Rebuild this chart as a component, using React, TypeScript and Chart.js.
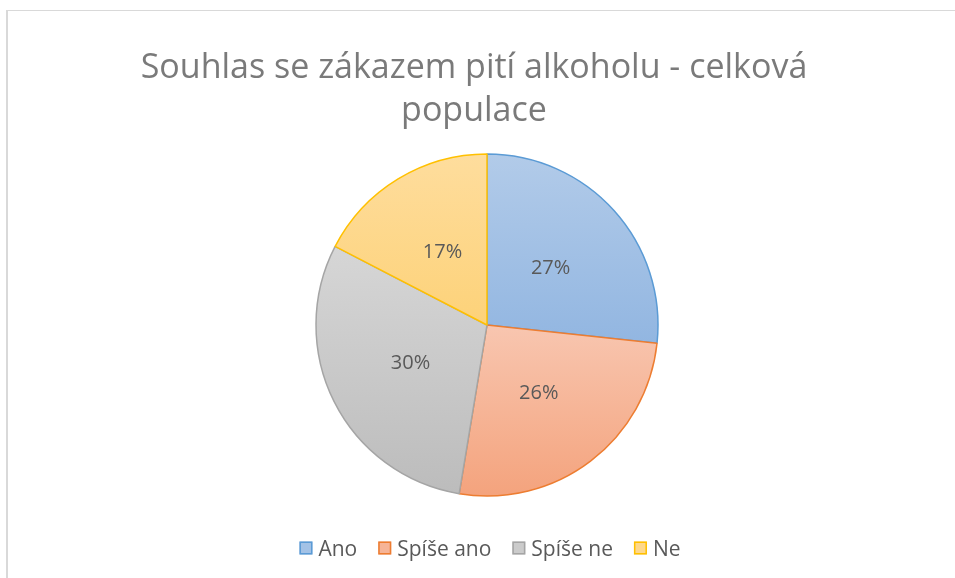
import React, { useEffect, useRef } from 'react';
import { Chart, registerables } from 'chart.js';

Chart.register(...registerables);

const categories = ['Ano', 'Spíše ano', 'Spíše ne', 'Ne'];
const shares = [26.7, 25.9, 30.0, 17.4];
const titleLines = ['Souhlas se zákazem pití alkoholu - celková', 'populace'];
const borderColors = ['#5b9bd5', '#ed7d31', '#a5a5a5', '#ffc000'];
const gradTop = ['#b2cbe9', '#f8c6b0', '#d6d6d6', '#fedd9d'];
const gradBottom = ['#92b6e1', '#f4a37d', '#bcbcbc', '#fdd279'];
const legendFill = ['#a3c2e6', '#f6b497', '#cbcbcb', '#fed88c'];

const FONT = '"Open Sans", Lato, sans-serif';
const RADIUS = 171;

const gradientPlugin = {
  id: 'sliceGradient',
  beforeDatasetsDraw(chart: any) {
    const meta = chart.getDatasetMeta(0);
    meta.data.forEach((arc: any, i: number) => {
      const { x, y, startAngle, endAngle, outerRadius } = arc.getProps(
        ['x', 'y', 'startAngle', 'endAngle', 'outerRadius'],
        true
      );
      let ymin = y;
      let ymax = y;
      const angles = [startAngle, endAngle];
      for (let k = -4; k <= 4; k++) {
        const a = Math.PI / 2 + k * Math.PI;
        if (a > startAngle && a < endAngle) angles.push(a);
      }
      angles.forEach((a) => {
        const py = y + outerRadius * Math.sin(a);
        ymin = Math.min(ymin, py);
        ymax = Math.max(ymax, py);
      });
      const g = chart.ctx.createLinearGradient(0, ymin, 0, ymax);
      g.addColorStop(0, gradTop[i]);
      g.addColorStop(1, gradBottom[i]);
      arc.options.backgroundColor = g;
    });
  },
};

const labelPlugin = {
  id: 'sliceLabels',
  afterDatasetsDraw(chart: any) {
    const meta = chart.getDatasetMeta(0);
    const total = shares.reduce((a, b) => a + b, 0);
    const ctx = chart.ctx;
    ctx.save();
    ctx.font = `20px ${FONT}`;
    ctx.fillStyle = '#595959';
    ctx.textAlign = 'center';
    ctx.textBaseline = 'middle';
    meta.data.forEach((arc: any, i: number) => {
      const p = arc.tooltipPosition(true);
      ctx.fillText(Math.round((shares[i] / total) * 100) + '%', p.x, p.y);
    });
    ctx.restore();
  },
};

const titlePlugin = {
  id: 'topTitle',
  afterDraw(chart: any) {
    const ctx = chart.ctx;
    ctx.save();
    ctx.font = `34px ${FONT}`;
    ctx.fillStyle = '#7a7a7a';
    ctx.textAlign = 'center';
    ctx.textBaseline = 'alphabetic';
    const cx = 474;
    titleLines.forEach((line, i) => {
      ctx.fillText(line, cx, 78 + i * 43);
    });
    ctx.restore();
  },
};

const legendPlugin = {
  id: 'bottomLegend',
  afterDraw(chart: any) {
    const ctx = chart.ctx;
    ctx.save();
    ctx.font = `21px ${FONT}`;
    const BOX = 13;
    const GAP = 6;
    const SPACING = 21;
    const widths = categories.map((c) => ctx.measureText(c).width);
    const total =
      widths.reduce((a, w) => a + BOX + GAP + w, 0) + SPACING * (categories.length - 1);
    let x = 490 - total / 2;
    const baseline = 556;
    const boxTop = 541.5;
    categories.forEach((c, i) => {
      ctx.fillStyle = legendFill[i];
      ctx.fillRect(x, boxTop, BOX, BOX);
      ctx.strokeStyle = borderColors[i];
      ctx.lineWidth = 1.5;
      ctx.strokeRect(x + 0.75, boxTop + 0.75, BOX - 1.5, BOX - 1.5);
      ctx.fillStyle = '#595959';
      ctx.textAlign = 'left';
      ctx.textBaseline = 'alphabetic';
      ctx.fillText(c, x + BOX + GAP, baseline);
      x += BOX + GAP + widths[i] + SPACING;
    });
    ctx.restore();
  },
};

export default function App() {
  const ref = useRef<HTMLCanvasElement>(null);

  useEffect(() => {
    if (!ref.current) return;
    const chart = new Chart(ref.current, {
      type: 'pie',
      data: {
        labels: categories,
        datasets: [
          {
            data: shares,
            backgroundColor: gradTop,
            borderColor: borderColors,
            borderWidth: 1.5,
            radius: RADIUS,
          } as any,
        ],
      },
      options: {
        animation: false,
        responsive: false,
        radius: RADIUS,
        layout: { padding: { left: 19, right: 0, top: 139, bottom: 67 } },
        plugins: {
          tooltip: { enabled: false },
          legend: { display: false },
          title: { display: false },
        },
      } as any,
      plugins: [gradientPlugin, labelPlugin, titlePlugin, legendPlugin],
    });
    return () => chart.destroy();
  }, []);

  return (
    <div
      style={{
        position: 'fixed',
        left: 0,
        top: 0,
        width: 955,
        height: 578,
        background: '#ffffff',
        overflow: 'hidden',
      }}
    >
      <div
        style={{
          position: 'absolute',
          left: 6,
          top: 10,
          width: 2000,
          height: 2000,
          borderLeft: '2px solid #d9d9d9',
          borderTop: '1px solid #d9d9d9',
        }}
      />
      <canvas
        ref={ref}
        width={955}
        height={578}
        style={{ position: 'absolute', left: 0, top: 0, width: 955, height: 578 }}
      />
    </div>
  );
}
